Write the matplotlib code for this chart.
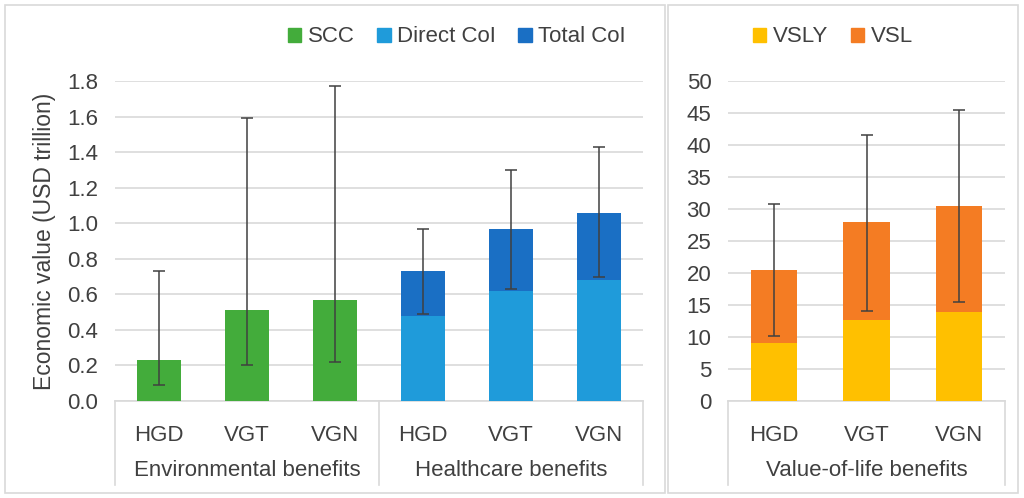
import matplotlib
matplotlib.use('Agg')
import matplotlib.pyplot as plt
import numpy as np
from matplotlib.patches import Patch, Rectangle

plt.rcParams['font.family'] = ['Liberation Sans Narrow', 'Liberation Sans', 'DejaVu Sans']

# ---- data ----
cats = ['HGD', 'VGT', 'VGN']
groups_left = ['Environmental benefits', 'Healthcare benefits']
group_right = 'Value-of-life benefits'

scc = [0.23, 0.51, 0.57]
scc_lo = [0.09, 0.20, 0.22]
scc_hi = [0.73, 1.59, 1.77]

direct_coi = [0.48, 0.62, 0.68]
total_coi = [0.73, 0.97, 1.06]
coi_lo = [0.49, 0.63, 0.70]
coi_hi = [0.97, 1.30, 1.43]

vsly = [9.0, 12.6, 13.9]
vsl_total = [20.5, 27.9, 30.5]
vsl_lo = [10.2, 14.1, 15.5]
vsl_hi = [30.8, 41.6, 45.4]

left_ticks = [0.0, 0.2, 0.4, 0.6, 0.8, 1.0, 1.2, 1.4, 1.6, 1.8]
right_ticks = [0, 5, 10, 15, 20, 25, 30, 35, 40, 45, 50]

# ---- colours ----
c_scc = '#43AC3B'
c_direct = '#1F9BDA'
c_total = '#1A6FC4'
c_vsly = '#FFC000'
c_vsl = '#F47C23'
c_err = '#404040'
c_text = '#404040'
c_grid = '#D9D9D9'
fs = 16

W, H = 1024, 498
fig = plt.figure(figsize=(W / 100, H / 100), dpi=100)

# panel borders
for x0, x1 in [(5, 665), (668, 1018)]:
    fig.patches.append(Rectangle((x0 / W, 5 / H), (x1 - x0) / W, (493 - 5) / H,
                                 transform=fig.transFigure, fill=False,
                                 edgecolor=c_grid, linewidth=1.2))

y0, y1 = 401, 81
axL = fig.add_axes([115 / W, (H - y0) / H, (643 - 115) / W, (y0 - y1) / H])
axR = fig.add_axes([728 / W, (H - y0) / H, (1005 - 728) / W, (y0 - y1) / H])

bw = 0.5
ekw = dict(fmt='none', ecolor=c_err, elinewidth=1.1, capsize=4, capthick=1.1, zorder=4)

# left panel
xe = np.arange(3)
xh = np.arange(3) + 3
axL.bar(xe, scc, bw, color=c_scc, zorder=3)
axL.errorbar(xe, scc, yerr=[np.array(scc) - np.array(scc_lo), np.array(scc_hi) - np.array(scc)], **ekw)
axL.bar(xh, direct_coi, bw, color=c_direct, zorder=3)
axL.bar(xh, np.array(total_coi) - np.array(direct_coi), bw, bottom=direct_coi, color=c_total, zorder=3)
axL.errorbar(xh, total_coi, yerr=[np.array(total_coi) - np.array(coi_lo), np.array(coi_hi) - np.array(total_coi)], **ekw)
axL.set_xlim(-0.5, 5.5)
axL.set_ylim(0, 1.8)
axL.set_yticks(left_ticks)
axL.set_yticklabels(['%.1f' % t for t in left_ticks])
axL.set_xticks(list(xe) + list(xh))
axL.set_xticklabels(cats + cats)
axL.set_ylabel('Economic value (USD trillion)', fontsize=16.5, color=c_text, labelpad=8)

# right panel
xr = np.arange(3)
axR.bar(xr, vsly, bw, color=c_vsly, zorder=3)
axR.bar(xr, np.array(vsl_total) - np.array(vsly), bw, bottom=vsly, color=c_vsl, zorder=3)
axR.errorbar(xr, vsl_total, yerr=[np.array(vsl_total) - np.array(vsl_lo), np.array(vsl_hi) - np.array(vsl_total)], **ekw)
axR.set_xlim(-0.5, 2.5)
axR.set_ylim(0, 50)
axR.set_yticks(right_ticks)
axR.set_xticks(xr)
axR.set_xticklabels(cats)

box_bottom = -(485 - 401) / (401 - 81)
for ax, divs in [(axL, [0, 0.5, 1]), (axR, [0, 1])]:
    for s in ['top', 'right', 'left']:
        ax.spines[s].set_visible(False)
    ax.spines['bottom'].set_color(c_grid)
    ax.spines['bottom'].set_linewidth(1.2)
    ax.grid(axis='y', color=c_grid, linewidth=1.2, zorder=0)
    ax.set_axisbelow(True)
    ax.tick_params(axis='both', length=0, labelsize=fs, labelcolor=c_text)
    ax.tick_params(axis='x', pad=17)
    ax.tick_params(axis='y', pad=12)
    for d in divs:
        ax.plot([d, d], [0, box_bottom], transform=ax.transAxes, color=c_grid,
                linewidth=1.2, clip_on=False)

txt_y = -(470 - 401) / (401 - 81)
axL.text(0.25, txt_y, groups_left[0], transform=axL.transAxes, ha='center', va='center',
         fontsize=fs, color=c_text)
axL.text(0.75, txt_y, groups_left[1], transform=axL.transAxes, ha='center', va='center',
         fontsize=fs, color=c_text)
axR.text(0.5, txt_y, group_right, transform=axR.transAxes, ha='center', va='center',
         fontsize=fs, color=c_text)

lkw = dict(frameon=False, fontsize=fs, handlelength=0.6, handleheight=0.6,
           handletextpad=0.3, columnspacing=1.0, labelcolor=c_text, borderaxespad=0)
fig.legend(handles=[Patch(color=c_scc, label='SCC'), Patch(color=c_direct, label='Direct CoI'),
                    Patch(color=c_total, label='Total CoI')],
           loc='center', bbox_to_anchor=(457 / W, (H - 37) / H), ncol=3, **lkw)
fig.legend(handles=[Patch(color=c_vsly, label='VSLY'), Patch(color=c_vsl, label='VSL')],
           loc='center', bbox_to_anchor=(833 / W, (H - 37) / H), ncol=2, **lkw)

fig.savefig('out.png', dpi=100, facecolor='white')
